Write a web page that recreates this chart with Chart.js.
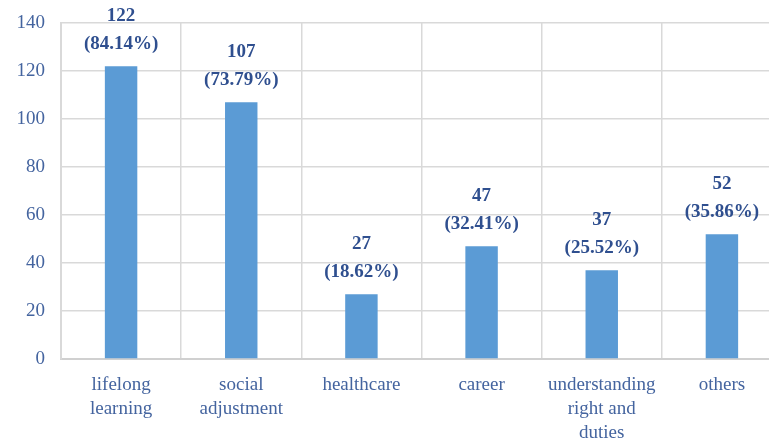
<!DOCTYPE html>
<html>
<head>
<meta charset="utf-8">
<script src="https://cdn.jsdelivr.net/npm/chart.js@4"></script>
<style>
html,body{margin:0;padding:0;background:#fff;overflow:hidden;}
#wrap{width:782px;height:442px;}
</style>
</head>
<body>
<div id="wrap"><canvas id="topics"></canvas></div>
<script>
var categories = [['lifelong', 'learning'], ['social', 'adjustment'], ['healthcare'], ['career'], ['understanding', 'right and', 'duties'], ['others']];
var counts = [122, 107, 27, 47, 37, 52];
var percents = ['84.14%', '73.79%', '18.62%', '32.41%', '25.52%', '35.86%'];
var yTicks = [0, 20, 40, 60, 80, 100, 120, 140];

var serif = '"Liberation Serif", "DejaVu Serif", serif';

// two line value labels over the bars
var barLabels = {
	id: 'barLabels',
	afterDatasetsDraw: function(chart) {
		var ctx = chart.ctx;
		var meta = chart.getDatasetMeta(0);
		ctx.save();
		ctx.fillStyle = '#2f4f8f';
		ctx.font = 'bold 19px ' + serif;
		ctx.textAlign = 'center';
		ctx.textBaseline = 'middle';
		meta.data.forEach(function(bar, i) {
			ctx.fillText(String(counts[i]), bar.x, bar.y - 50);
			ctx.fillText('(' + percents[i] + ')', bar.x, bar.y - 22);
		});
		ctx.restore();
	}
};

var ctx = document.getElementById('topics').getContext('2d');
var chart = new Chart(ctx, {
	type: 'bar',
	data: {
		labels: categories,
		datasets: [{
			data: counts,
			backgroundColor: '#5b9bd5',
			barPercentage: 0.54,
			categoryPercentage: 0.5
		}]
	},
	options: {
		responsive: true,
		maintainAspectRatio: false,
		animation: false,
		layout: { padding: { top: 23, left: 0, right: 0, bottom: 0 } },
		plugins: { legend: { display: false }, tooltip: { enabled: false } },
		scales: {
			x: {
				offset: true,
				grid: { offset: true, color: '#d9d9d9', lineWidth: 1.5, drawTicks: false },
				border: { color: '#d0d0d0', width: 2 },
				ticks: { color: '#44649f', font: { family: serif, size: 19, lineHeight: 1.26 }, padding: 14, maxRotation: 0, autoSkip: false },
				afterFit: function(scale) { scale.height = 83; }
			},
			y: {
				min: 0, max: 140,
				afterBuildTicks: function(scale) { scale.ticks = yTicks.map(function(v) { return { value: v }; }); },
				grid: { color: '#d9d9d9', lineWidth: 1.5, drawTicks: false },
				border: { color: '#d9d9d9', width: 2 },
				ticks: { color: '#44649f', font: { family: serif, size: 19 }, padding: 16 },
				afterFit: function(scale) { scale.width = 61; scale.paddingTop = 0; scale.paddingBottom = 0; }
			}
		}
	},
	plugins: [barLabels]
});
</script>
</body>
</html>
